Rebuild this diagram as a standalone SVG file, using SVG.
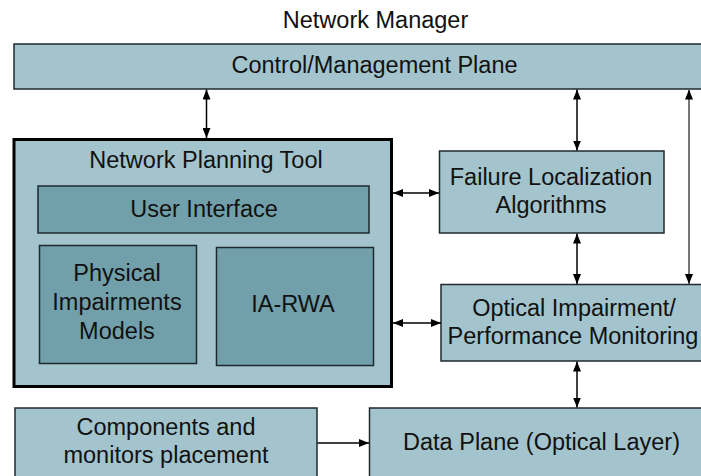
<svg xmlns="http://www.w3.org/2000/svg" width="701" height="476" viewBox="0 0 701 476">
  <defs>
    <marker id="ah" viewBox="0 0 10 8" refX="10" refY="4" markerWidth="10" markerHeight="8" markerUnits="userSpaceOnUse" orient="auto-start-reverse">
      <path d="M0,0 L10,4 L0,8 z" fill="#000"/>
    </marker>
  </defs>
  <style>
    text { font-family: "Liberation Sans", Arial, sans-serif; font-size: 23.5px; fill: #111; text-anchor: middle; }
    .light { fill: #A3C4CC; stroke: #1e2a2d; stroke-width: 1.5; }
    .dark { fill: #72A0AA; stroke: #1e2a2d; stroke-width: 1.5; }
    .thick { fill: #A3C4CC; stroke: #000; stroke-width: 3; }
    .conn { stroke: #000; stroke-width: 1.5; fill: none; }
    .gray { stroke: #666; stroke-width: 1.8; fill: none; }
  </style>
  <rect width="701" height="476" fill="#fff"/>
  <text id="title" x="375.5" y="28">Network Manager</text>

  <g id="cmp">
    <rect class="light" x="14" y="44" width="722" height="45"/>
    <text x="374.5" y="73">Control/Management Plane</text>
  </g>

  <g id="npt">
    <rect class="thick" x="14" y="139.5" width="377.5" height="247"/>
    <text x="206" y="168">Network Planning Tool</text>
  </g>
  <g id="ui">
    <rect class="dark" x="38" y="186" width="331" height="47"/>
    <text x="204" y="217">User Interface</text>
  </g>
  <g id="pim">
    <rect class="dark" x="39.5" y="245.5" width="157" height="118"/>
    <text x="117" y="281">Physical</text>
    <text x="117" y="310">Impairments</text>
    <text x="117" y="339">Models</text>
  </g>
  <g id="iarwa">
    <rect class="dark" x="216.5" y="247.5" width="157" height="118"/>
    <text x="293" y="312">IA-RWA</text>
  </g>

  <g id="fla">
    <rect class="light" x="439.5" y="151" width="224.5" height="82"/>
    <text x="551" y="185">Failure Localization</text>
    <text x="551" y="213">Algorithms</text>
  </g>

  <g id="oipm">
    <rect class="light" x="441" y="284.5" width="265" height="76.5"/>
    <text x="574" y="316">Optical Impairment/</text>
    <text x="573" y="344">Performance Monitoring</text>
  </g>

  <g id="cmpl">
    <rect class="light" x="15" y="408" width="302" height="80"/>
    <text x="166" y="435">Components and</text>
    <text x="166" y="463">monitors placement</text>
  </g>

  <g id="dp">
    <rect class="light" x="369.5" y="408" width="345" height="80"/>
    <text x="541.5" y="450">Data Plane (Optical Layer)</text>
  </g>

  <g id="connectors">
    <line class="conn" x1="206.5" y1="89.5" x2="206.5" y2="138" marker-start="url(#ah)" marker-end="url(#ah)"/>
    <line class="conn" x1="577" y1="89.5" x2="577" y2="150.5" marker-start="url(#ah)" marker-end="url(#ah)"/>
    <line class="gray" x1="689" y1="89.5" x2="689" y2="284" marker-start="url(#ah)" marker-end="url(#ah)"/>
    <line class="conn" x1="393" y1="193" x2="439" y2="193" marker-start="url(#ah)" marker-end="url(#ah)"/>
    <line class="conn" x1="393" y1="323" x2="441" y2="323" marker-start="url(#ah)" marker-end="url(#ah)"/>
    <line class="conn" x1="577" y1="233.5" x2="577" y2="284" marker-start="url(#ah)" marker-end="url(#ah)"/>
    <line class="conn" x1="577" y1="361.5" x2="577" y2="407.5" marker-start="url(#ah)" marker-end="url(#ah)"/>
    <line class="conn" x1="317.5" y1="443" x2="369" y2="443" marker-end="url(#ah)"/>
  </g>
</svg>
